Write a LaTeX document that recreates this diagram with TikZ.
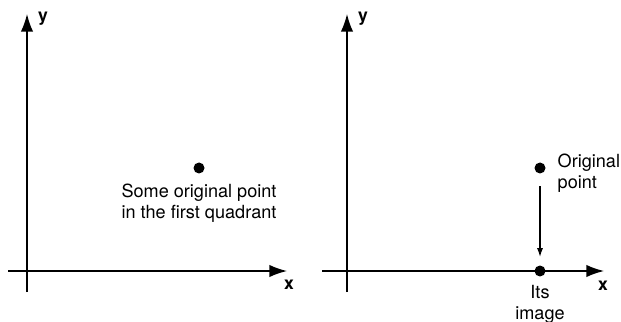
\documentclass[tikz,border=0pt]{standalone}
\usepackage{fontspec}
\setmainfont{TeX Gyre Heros}
\usetikzlibrary{positioning, arrows.meta}

\begin{document}
\begin{tikzpicture}[x=0.02cm, y=0.02cm, line width=0.8pt,
  axis/.style={-{Latex[length=10pt,width=7pt]}},
  dot/.style={circle, fill, inner sep=0pt, minimum size=0.22cm},
  lbl/.style={font=\fontsize{10.3}{12}\selectfont, inner sep=0pt},
  axlbl/.style={font=\fontsize{10}{12}\selectfont\bfseries, inner sep=0pt}]
\useasboundingbox (0,0) rectangle (621,321);
% left panel
\coordinate (xa0) at (8,50);
\coordinate (xa1) at (287,50);
\coordinate (ya0) at (27,29);
\coordinate (ya1) at (27,307);
\draw[axis] (xa0) -- (xa1);
\draw[axis] (ya0) -- (ya1);
\node[axlbl] (xlabA) at (289,36) {x};
\node[axlbl] (ylabA) at (43,302) {y};
\node[dot] (orig) at (199,153) {};
\node[lbl, align=center] (origtext) at (199,118) {Some original point\\in the first quadrant};
% right panel
\coordinate (xb0) at (322,50);
\coordinate (xb1) at (604,50);
\coordinate (yb0) at (347,29);
\coordinate (yb1) at (347,307);
\draw[axis] (xb0) -- (xb1);
\draw[axis] (yb0) -- (yb1);
\node[axlbl] (xlabB) at (603,35) {x};
\node[axlbl] (ylabB) at (363,302) {y};
\node[dot] (origB) at (540,153) {};
\node[dot] (image) at (540,50) {};
\draw[-{Latex[length=5pt,width=3.5pt]}, line width=0.6pt, shorten <=0.24cm, shorten >=0.16cm] (origB) -- (image);
\node[lbl, align=left, anchor=west] (origBtext) at (557,148) {Original\\point};
\node[lbl, align=center] (imgtext) at (540,17) {Its\\image};
\end{tikzpicture}
\end{document}
